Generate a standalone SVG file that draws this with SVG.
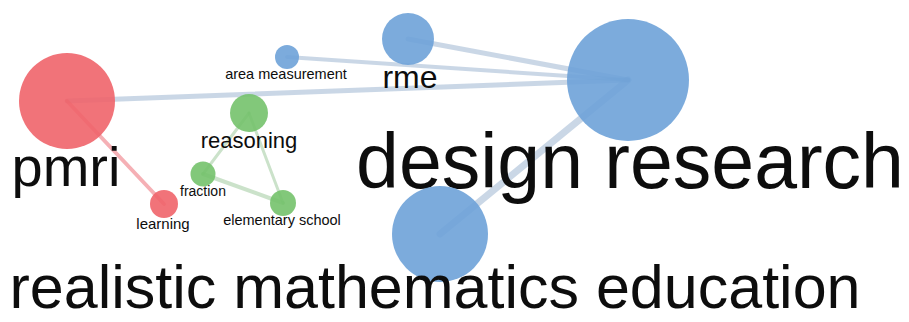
<svg xmlns="http://www.w3.org/2000/svg" width="909" height="322" viewBox="0 0 909 322">
<style>
.lbl{font-family:"Liberation Sans",Arial,sans-serif;fill:#0d0d0d;text-anchor:middle}
.red{fill:#f0646a;fill-opacity:0.9}
.blue{fill:#6ea2d8;fill-opacity:0.9}
.green{fill:#74c26c;fill-opacity:0.9}
.e{fill:none;stroke-linecap:round}
.eb{stroke:#8aa6c8;stroke-opacity:0.45}
.er{stroke:#e8505a;stroke-opacity:0.45}
.eg{stroke:#8cbf8a;stroke-opacity:0.45}
</style>
<rect width="909" height="322" fill="#ffffff"/>
<g id="connectors">
<line class="e eb" x1="67" y1="101" x2="628" y2="80" stroke-width="5"/>
<line class="e eb" x1="287" y1="57" x2="628" y2="80" stroke-width="4"/>
<line class="e eb" x1="408" y1="39" x2="628" y2="80" stroke-width="5"/>
<line class="e eb" x1="628" y1="80" x2="440" y2="234" stroke-width="7"/>
<line class="e er" x1="67" y1="101" x2="164" y2="204" stroke-width="4"/>
<line class="e eg" x1="249" y1="113" x2="203" y2="174" stroke-width="3"/>
<line class="e eg" x1="249" y1="113" x2="283" y2="203" stroke-width="3"/>
<line class="e eg" x1="203" y1="174" x2="283" y2="203" stroke-width="4"/>
</g>
<g id="node-pmri"><circle class="red" cx="67" cy="101" r="48"/><text class="lbl" x="66" y="186" font-size="56">pmri</text></g>
<g id="node-design-research"><circle class="blue" cx="628" cy="80" r="61"/><text class="lbl" x="630" y="188" font-size="77">design research</text></g>
<g id="node-rme"><circle class="blue" cx="408" cy="39" r="26"/><text class="lbl" x="410" y="88" font-size="32">rme</text></g>
<g id="node-area-measurement"><circle class="blue" cx="287" cy="57" r="12"/><text class="lbl" x="286" y="79" font-size="14.5">area measurement</text></g>
<g id="node-realistic-mathematics-education"><circle class="blue" cx="440" cy="234" r="48"/><text class="lbl" x="435" y="308" font-size="61">realistic mathematics education</text></g>
<g id="node-reasoning"><circle class="green" cx="249" cy="113" r="19"/><text class="lbl" x="249" y="148" font-size="22">reasoning</text></g>
<g id="node-fraction"><circle class="green" cx="203" cy="174" r="12.5"/><text class="lbl" x="203" y="196" font-size="14">fraction</text></g>
<g id="node-elementary-school"><circle class="green" cx="283" cy="203" r="13"/><text class="lbl" x="282" y="225" font-size="14.5">elementary school</text></g>
<g id="node-learning"><circle class="red" cx="164" cy="204" r="14"/><text class="lbl" x="163" y="229" font-size="15">learning</text></g>
</svg>
